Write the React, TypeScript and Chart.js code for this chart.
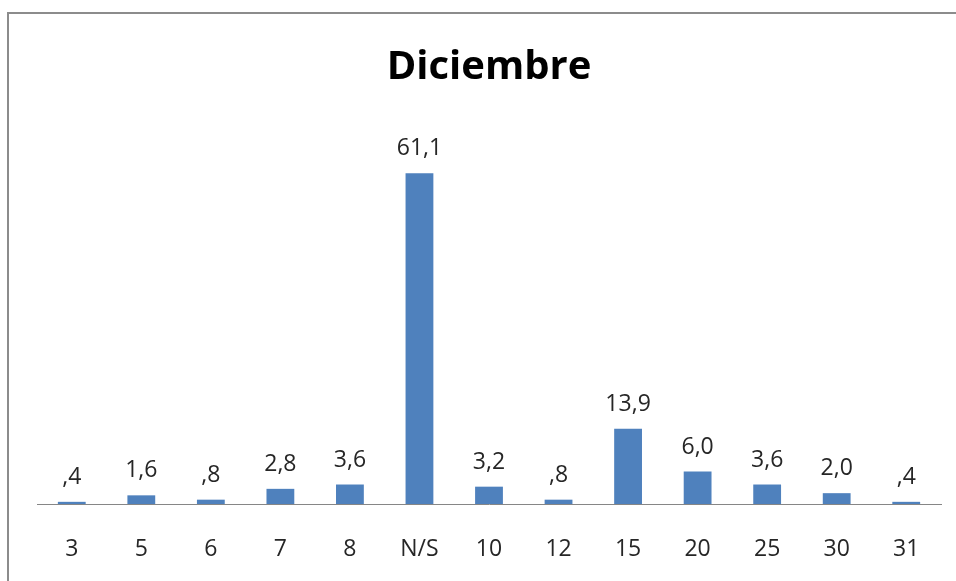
import React, { useEffect, useRef } from "react";
import { Chart, registerables } from "chart.js";

Chart.register(...registerables);

const categories = ["3", "5", "6", "7", "8", "N/S", "10", "12", "15", "20", "25", "30", "31"];
const values = [0.4, 1.6, 0.8, 2.8, 3.6, 61.1, 3.2, 0.8, 13.9, 6.0, 3.6, 2.0, 0.4];
const chartTitle = "Diciembre";

const FONT = "'Open Sans', sans-serif";

function formatValue(v: number): string {
  let s = v.toFixed(1).replace(".", ",");
  if (s.startsWith("0,")) s = s.slice(1);
  return s;
}

const labelPlugin = {
  id: "barLabels",
  afterDatasetsDraw(chart: any) {
    const ctx = chart.ctx;
    const meta = chart.getDatasetMeta(0);
    ctx.save();
    ctx.font = `23px ${FONT}`;
    ctx.fillStyle = "#262626";
    ctx.textAlign = "center";
    ctx.textBaseline = "alphabetic";
    meta.data.forEach((el: any, i: number) => {
      ctx.fillText(formatValue(values[i]), el.x, el.y - 18);
    });
    ctx.restore();
  },
};

const titlePlugin = {
  id: "customTitle",
  afterDraw(chart: any) {
    const ctx = chart.ctx;
    ctx.save();
    ctx.font = `bold 40px ${FONT}`;
    ctx.fillStyle = "#000000";
    ctx.textAlign = "center";
    ctx.textBaseline = "alphabetic";
    ctx.fillText(chartTitle, 489, 79);
    ctx.restore();
  },
};

export default function App() {
  const ref = useRef<HTMLCanvasElement | null>(null);

  useEffect(() => {
    if (!ref.current) return;
    const chart = new Chart(ref.current, {
      type: "bar",
      data: {
        labels: categories,
        datasets: [
          {
            data: values,
            backgroundColor: "#4F81BD",
            borderWidth: 0,
            barPercentage: 0.4,
            categoryPercentage: 1.0,
          },
        ],
      },
      options: {
        animation: false,
        responsive: false,
        maintainAspectRatio: false,
        layout: { padding: { left: 37, right: 15, top: 125, bottom: 0 } },
        plugins: {
          legend: { display: false },
          title: { display: false },
          tooltip: { enabled: false },
        },
        scales: {
          x: {
            grid: { display: false, drawTicks: false },
            border: { display: true, color: "#868686", width: 1 },
            ticks: {
              color: "#262626",
              font: { family: FONT, size: 23 },
              padding: 32,
              maxRotation: 0,
              autoSkip: false,
            },
            afterFit: (scale: any) => {
              scale.height = 77;
            },
          },
          y: {
            display: false,
            min: 0,
            max: 70,
          },
        },
      },
      plugins: [labelPlugin, titlePlugin],
    });
    return () => chart.destroy();
  }, []);

  return (
    <div style={{ position: "absolute", left: 0, top: 0, width: 956, height: 581, background: "#fff", overflow: "hidden" }}>
      <div
        style={{
          position: "absolute",
          left: 7,
          top: 12,
          width: 1000,
          height: 1000,
          borderLeft: "2px solid #8c8c8c",
          borderTop: "2px solid #8c8c8c",
        }}
      />
      <canvas ref={ref} width={956} height={581} style={{ position: "absolute", left: 0, top: 0 }} />
    </div>
  );
}
